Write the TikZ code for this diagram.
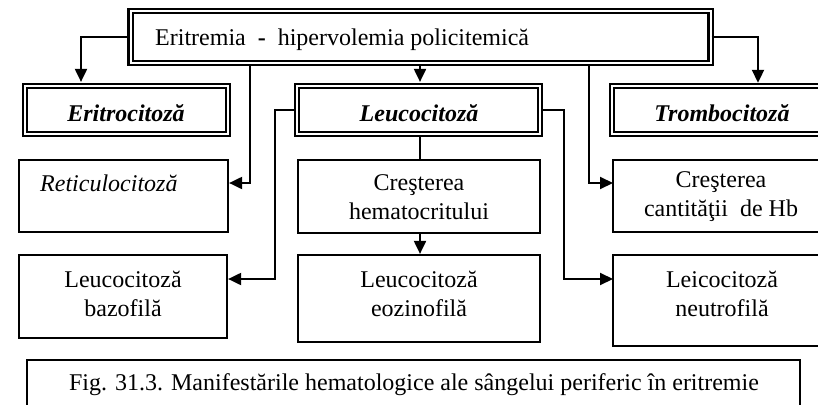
\documentclass[tikz,border=0pt]{standalone}
\usepackage{fontspec}
\setmainfont{Liberation Serif}
\usetikzlibrary{arrows.meta,calc}
\begin{document}
\begin{tikzpicture}[x=1pt,y=-1pt,
  box/.style={draw,line width=2.2pt,inner sep=0pt,rectangle},
  dbox/.style={draw,line width=2.2pt,double,double distance=2pt,inner sep=0pt,rectangle},
  obox/.style={inner sep=0pt,rectangle},
  sline/.style={line width=2.2pt},
  dline/.style={line width=2.2pt,double,double distance=2pt},
  lbl/.style={inner sep=0pt,font=\fontsize{24}{29}\selectfont,align=center},
  ttl/.style={inner sep=0pt,font=\fontsize{24}{29}\selectfont\bfseries\itshape},
  conn/.style={line width=2pt},
  arr/.style={line width=2pt,-{Triangle[length=13pt,width=12pt]}}]
\useasboundingbox (0,0) rectangle (818,404);
\fill[white] (0,0) rectangle (818,404);
% boxes
\node[dbox,minimum width=580pt,minimum height=52pt] (top) at (420.5,37) {};
\node[dbox,minimum width=203pt,minimum height=48pt] (eri) at (126.5,110) {};
\node[dbox,minimum width=243pt,minimum height=48pt] (leu) at (418.5,110) {};
\node[obox,minimum width=210pt,minimum height=48pt,anchor=west] (tro) at (612,110) {};
\node[box,minimum width=209pt,minimum height=72pt] (ret) at (123.5,196) {};
\node[box,minimum width=242pt,minimum height=73pt] (hem) at (419,196.5) {};
\node[obox,minimum width=210pt,minimum height=72pt,anchor=west] (hb) at (613,196) {};
\node[box,minimum width=208pt,minimum height=83pt] (baz) at (123,296.5) {};
\node[box,minimum width=242pt,minimum height=87pt] (eoz) at (419,298.5) {};
\node[obox,minimum width=210pt,minimum height=91pt,anchor=west] (neu) at (613,300.5) {};
\node[obox,minimum width=773pt,minimum height=48pt,anchor=north] (cap) at (413.5,360) {};
% open boxes running off the right / bottom edge
\draw[dline] (tro.north east) -- (tro.north west) -- (tro.south west) -- (tro.south east);
\draw[sline] (hb.north east) -- (hb.north west) -- (hb.south west) -- (hb.south east);
\draw[sline] (neu.north east) -- (neu.north west) -- (neu.south west) -- (neu.south east);
\draw[sline] (cap.south west) -- (cap.north west) -- (cap.north east) -- (cap.south east);
% texts
\node[lbl,anchor=west] (ttop) at (155,40) {Eritremia\ \ \textbf{-}\ \ hipervolemia policitemică};
\node[ttl] (teri) at (126,113) {Eritrocitoză};
\node[ttl] (tleu) at (419,113) {Leucocitoză};
\node[ttl] (ttro) at (722,113) {Trombocitoză};
\node[lbl,anchor=west,font=\fontsize{24}{29}\selectfont\itshape] (tret) at (40,183) {Reticulocitoză};
\node[lbl] (them) at (419,197) {Creşterea\\hematocritului};
\node[lbl] (thb) at (721,197) {Creşterea\\cantităţii\ \ de Hb};
\node[lbl] (tbaz) at (123,294) {Leucocitoză\\bazofilă};
\node[lbl] (teoz) at (419,294) {Leucocitoză\\eozinofilă};
\node[lbl] (tneu) at (722,294) {Leicocitoză\\neutrofilă};
\node[lbl] (tcap) at (414,385) {Fig. 31.3. Manifestările hematologice ale sângelui periferic în eritremie};
% turning points
\coordinate (cL) at (81,37);
\coordinate (cR) at (758,37);
\coordinate (cRet) at (250,183);
\coordinate (cHb) at (589,183);
\coordinate (cBaz) at (275,279);
\coordinate (cNeu) at (564,279);
% connectors
\draw[arr,shorten >=3pt] (top.west) -- (cL) -- (cL |- eri.north);
\draw[arr,shorten >=3pt] (top.east) -- (cR) -- (cR |- tro.north);
\draw[arr,shorten >=3pt] (top.south -| 420,0) -- (leu.north -| 420,0);
\draw[arr] (top.south -| cRet) -- (cRet) -- (cRet -| ret.east);
\draw[arr] (top.south -| cHb) -- (cHb) -- (cHb -| hb.west);
\draw[conn] (leu.south -| 420,0) -- (hem.north -| 420,0);
\draw[arr] (hem.south -| 420,0) -- (eoz.north -| 420,0);
\draw[arr] (leu.west) -| (cBaz) -- (cBaz -| baz.east);
\draw[arr] (leu.east) -| (cNeu) -- (cNeu -| neu.west);
\end{tikzpicture}
\end{document}
